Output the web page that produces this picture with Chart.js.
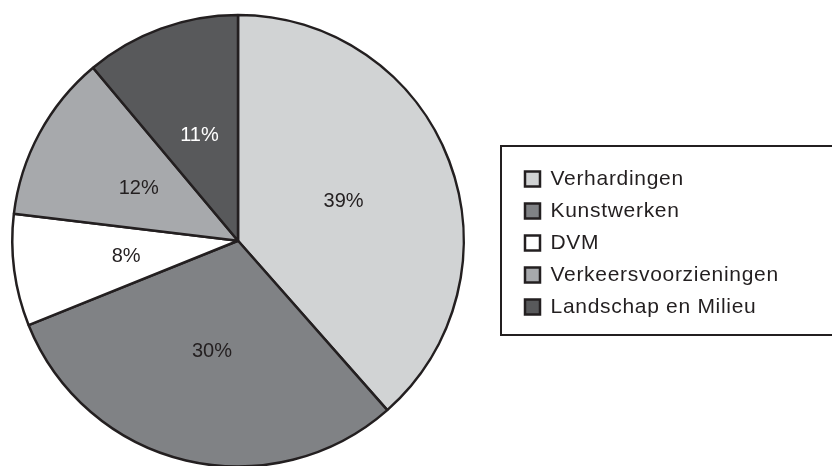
<!DOCTYPE html>
<html>
<head>
<meta charset="utf-8">
<script src="https://cdn.jsdelivr.net/npm/chart.js@4/dist/chart.umd.min.js"></script>
<style>
html,body{margin:0;padding:0;background:#fff;overflow:hidden;}
#wrap{width:832px;height:466px;overflow:hidden;}
canvas{display:block;}
</style>
</head>
<body>
<div id="wrap"><canvas id="c" width="832" height="468"></canvas></div>
<script>
const categories = ["Verhardingen", "Kunstwerken", "DVM", "Verkeersvoorzieningen", "Landschap en Milieu"];
const shares = [38.5, 30.4, 8.0, 12.0, 11.1];
const sliceLabels = ["39%", "30%", "8%", "12%", "11%"];

const sliceColors = ["#d1d3d4", "#808285", "#ffffff", "#a7a9ac", "#58595b"];
const labelColors = ["#231f20", "#231f20", "#231f20", "#231f20", "#ffffff"];
const ink = "#231f20";
const FONT = "'Liberation Sans', Arial, Helvetica, sans-serif";

const legendWidthPlugin = {
  id: 'legendWidth',
  beforeInit(chart) {
    const origFit = chart.legend.fit;
    chart.legend.fit = function () {
      origFit.bind(chart.legend)();
      this.width = 367;
    };
  },
  afterLayout(chart) {
    const lg = chart.legend;
    const w = lg.right - lg.left;
    lg.left = 514;
    lg.right = lg.left + w;
    lg.top = 157.5;
  },
  beforeDraw(chart) {
    chart.ctx.letterSpacing = '0.7px';
  }
};

const framePlugin = {
  id: 'frame',
  afterDraw(chart) {
    const ctx = chart.ctx;
    ctx.save();
    ctx.strokeStyle = ink;
    ctx.lineWidth = 2;
    ctx.strokeRect(501, 146, 340, 189);
    ctx.restore();
  }
};

const sliceLabelPlugin = {
  id: 'sliceLabels',
  afterDatasetsDraw(chart) {
    const ctx = chart.ctx;
    const meta = chart.getDatasetMeta(0);
    ctx.save();
    ctx.letterSpacing = '0px';
    ctx.font = "20px " + FONT;
    ctx.textAlign = 'center';
    ctx.textBaseline = 'middle';
    meta.data.forEach((arc, i) => {
      const p = arc.tooltipPosition();
      ctx.fillStyle = labelColors[i];
      ctx.fillText(sliceLabels[i], p.x, p.y + 1);
    });
    ctx.restore();
  }
};

new Chart(document.getElementById('c'), {
  type: 'pie',
  data: {
    labels: categories,
    datasets: [{
      data: shares,
      backgroundColor: sliceColors,
      borderColor: ink,
      borderWidth: 2.5
    }]
  },
  options: {
    responsive: false,
    devicePixelRatio: 1,
    animation: false,
    layout: { padding: { left: 11, top: 13.5, right: 0, bottom: 0 } },
    plugins: {
      tooltip: { enabled: false },
      legend: {
        position: 'right',
        align: 'start',
        labels: {
          color: ink,
          font: { size: 21, family: FONT },
          boxWidth: 15,
          boxHeight: 15,
          padding: 11
        }
      }
    }
  },
  plugins: [legendWidthPlugin, framePlugin, sliceLabelPlugin]
});
</script>
</body>
</html>
